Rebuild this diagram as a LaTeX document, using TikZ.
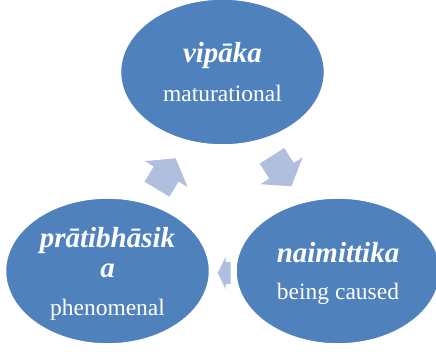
\documentclass[tikz,border=0pt]{standalone}
\usepackage{fontspec}
\setmainfont{Liberation Serif}
\usepackage{xcolor}
\usetikzlibrary{shapes.geometric, positioning}
\definecolor{cycleblue}{HTML}{4F81BD}
\definecolor{arrowblue}{HTML}{AFBFDD}
\tikzset{
  phase/.style={ellipse, fill=cycleblue, draw=white, line width=1.5pt,
                minimum width=204pt, minimum height=146pt, inner sep=0pt},
  term/.style={text=white, anchor=base, inner sep=0pt,
               font=\fontsize{29}{34}\selectfont\bfseries\itshape},
  gloss/.style={text=white, anchor=base, inner sep=0pt,
                font=\fontsize{23.5}{28}\selectfont},
  cyclearrow/.style={fill=arrowblue}
}

\begin{document}
\begin{tikzpicture}[x=1pt, y=1pt]
  \useasboundingbox (0,0) rectangle (436,351);
  %% block arrows of the cycle: tail x/y, angle, shaft length/width, head length/width
  \foreach \tx/\ty/\ang/\sl/\sw/\hl/\hw in {
      157/161.8/58.8/17.7/29/18.4/50,
      272/195.2/-57.5/17.7/29/18.4/50,
      230.5/78/180/4.8/21.6/8/32.6} {
    \fill[cyclearrow, shift={(\tx,\ty)}, rotate=\ang]
      (0,-\sw/2) -- (\sl,-\sw/2) -- (\sl,-\hw/2) -- (\sl+\hl,0)
      -- (\sl,\hw/2) -- (\sl,\sw/2) -- (0,\sw/2) -- cycle;
  }
  %% the three phases
  \node[phase] (vipaka) at (222.5,279) {};
  \node[phase] (prati)  at (107.5,80) {};
  \node[phase] (naimi)  at (338,80) {};
  \node[term]  (vipakaT) at ([yshift=9pt]vipaka.center) {vipāka};
  \node[gloss] (vipakaG) at ([yshift=-30pt]vipaka.center) {maturational};
  \node[term]  (pratiT)  at ([yshift=24pt]prati.center) {prātibhāsik};
  \node[term]  (pratiA)  at ([yshift=-6pt]prati.center) {a};
  \node[gloss] (pratiG)  at ([yshift=-44pt]prati.center) {phenomenal};
  \node[term]  (naimiT)  at ([yshift=9pt]naimi.center) {naimittika};
  \node[gloss] (naimiG)  at ([yshift=-28pt]naimi.center) {being caused};
\end{tikzpicture}
\end{document}
